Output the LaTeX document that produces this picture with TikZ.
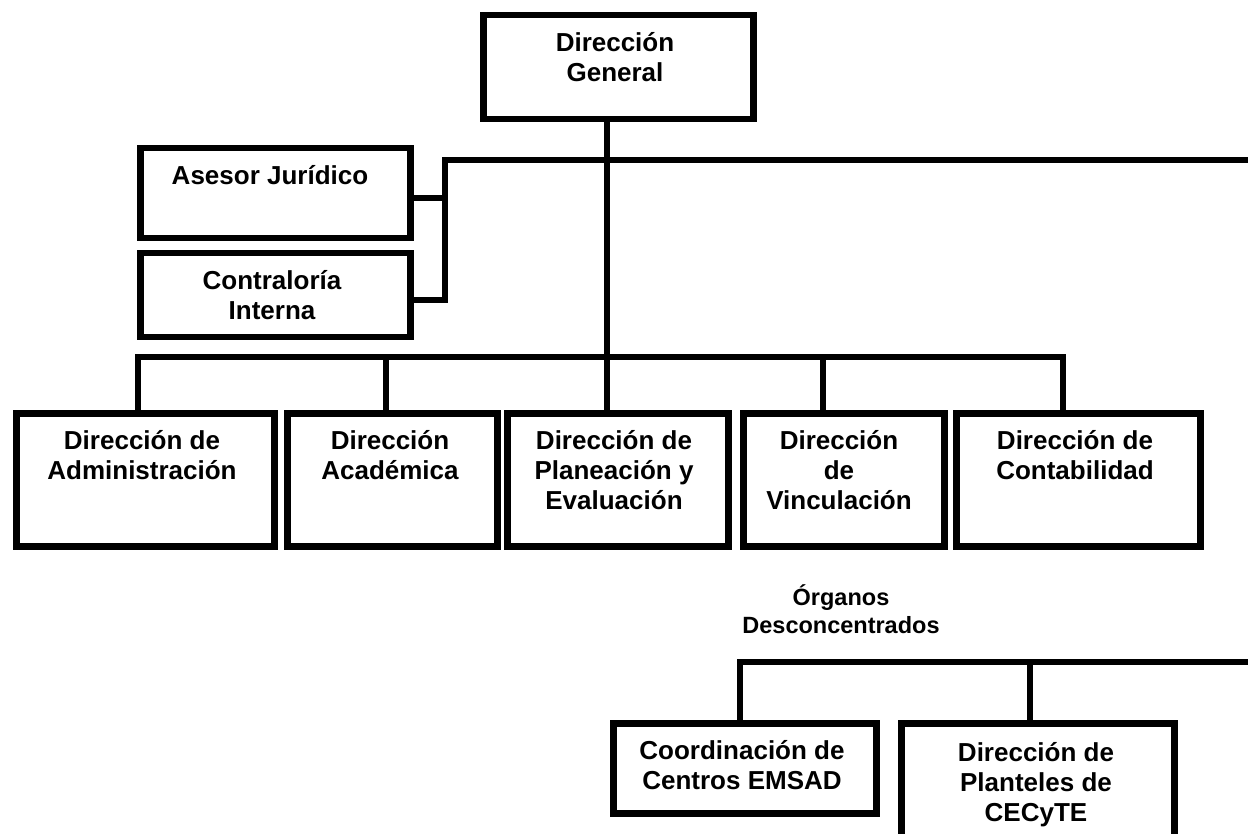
\documentclass[tikz,border=0pt]{standalone}
\usepackage{fontspec}
\setmainfont{Liberation Sans}
\newcommand\stt{\rule{0pt}{24pt}}
\begin{document}
\begin{tikzpicture}[x=1pt,y=-1pt,
  box/.style={draw=black, line width=6.5pt, inner sep=0pt, anchor=north west},
  conn/.style={draw=black, line width=6.5pt, line join=miter},
  lbl/.style={font=\bfseries\fontsize{26}{30}\selectfont, align=center, anchor=north, inner sep=0pt},
  slbl/.style={font=\bfseries\fontsize{23.5}{28}\selectfont, align=center, anchor=north, inner sep=0pt}]
\useasboundingbox (0,0) rectangle (1248,834);
\clip (0,0) rectangle (1248,834);
% boxes
\node[box, minimum width=270pt, minimum height=104pt] (gen) at (480,12) {};
\node[box, minimum width=270pt, minimum height=90pt] (ase) at (137,145) {};
\node[box, minimum width=270pt, minimum height=84pt] (con) at (137,250) {};
\node[box, minimum width=258pt, minimum height=133pt] (b1) at (13,410) {};
\node[box, minimum width=210pt, minimum height=133pt] (b2) at (284,410) {};
\node[box, minimum width=221pt, minimum height=133pt] (b3) at (504,410) {};
\node[box, minimum width=201pt, minimum height=133pt] (b4) at (740,410) {};
\node[box, minimum width=244pt, minimum height=133pt] (b5) at (953,410) {};
\node[box, minimum width=263pt, minimum height=90pt] (coord) at (610,720) {};
\node[box, minimum width=273pt, minimum height=140pt] (plan) at (898,720) {};
% texts
\node[lbl] (tgen) at (615,27.3) {\stt Dirección\\General};
\node[lbl] (tase) at (270,160.3) {\stt Asesor Jurídico};
\node[lbl] (tcon) at (272,265.3) {\stt Contraloría\\Interna};
\node[lbl] (tb1) at (142,425.3) {\stt Dirección de\\Administración};
\node[lbl] (tb2) at (390,425.3) {\stt Dirección\\Académica};
\node[lbl] (tb3) at (614,425.3) {\stt Dirección de\\Planeación y\\Evaluación};
\node[lbl] (tb4) at (839,425.3) {\stt Dirección\\de\\Vinculación};
\node[lbl] (tb5) at (1075,425.3) {\stt Dirección de\\Contabilidad};
\node[slbl] (torg) at (841,581.4) {\stt Órganos\\Desconcentrados};
\node[lbl] (tcoord) at (742,735.3) {\stt Coordinación de\\Centros EMSAD};
\node[lbl] (tplan) at (1036,737.3) {\stt Dirección de\\Planteles de\\CECyTE};
% coordinates
\coordinate (tj) at (445,160);
\coordinate (tr) at (1260,160);
\coordinate (aj) at (445,198);
\coordinate (cj) at (445,300);
\coordinate (gv) at (607,357);
\coordinate (d1) at (138,357);
\coordinate (d2) at (386,357);
\coordinate (d4) at (823,357);
\coordinate (d5) at (1063,357);
\coordinate (od1) at (740,662);
\coordinate (od2) at (1030,662);
\coordinate (orr) at (1260,662);
% connectors
\draw[conn] (tr) -- (tj) -- (cj) -- (con.east |- cj);
\draw[conn] (ase.east |- aj) -- (aj);
\draw[conn] (gv |- gen.south) -- (gv);
\draw[conn] (d1 |- b1.north) -- (d1) -- (d5) -- (d5 |- b5.north);
\draw[conn] (d2) -- (d2 |- b2.north);
\draw[conn] (gv) -- (gv |- b3.north);
\draw[conn] (d4) -- (d4 |- b4.north);
\draw[conn] (od1 |- coord.north) -- (od1) -- (orr);
\draw[conn] (od2) -- (od2 |- plan.north);
\end{tikzpicture}
\end{document}
